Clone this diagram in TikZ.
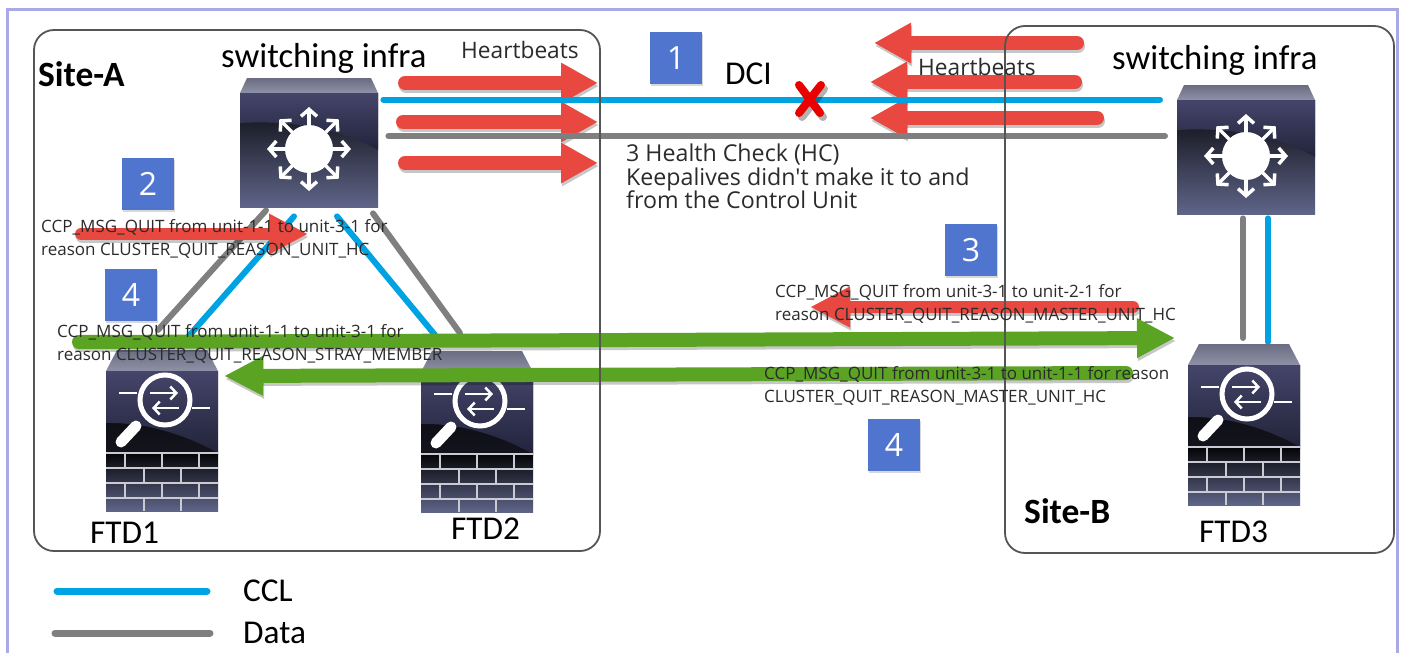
\documentclass[tikz,border=0pt]{standalone}
\usepackage{fontspec}
\setmainfont{Carlito}
\newfontfamily\opsans{Open Sans}
\usetikzlibrary{arrows.meta,shadows}
\definecolor{framec}{HTML}{A9A9E6}
\definecolor{sitec}{HTML}{555555}
\definecolor{cclc}{HTML}{00A3E2}
\definecolor{datac}{HTML}{7F7F7F}
\definecolor{redc}{HTML}{E8483F}
\definecolor{greenc}{HTML}{5BA423}
\definecolor{tagc}{HTML}{4F75CE}
\definecolor{txtc}{HTML}{2B2B2B}
\definecolor{capa}{HTML}{6A6C82}
\definecolor{capb}{HTML}{8F91A6}
\definecolor{upa}{HTML}{44456A}
\definecolor{upb}{HTML}{22233A}
\definecolor{lowa}{HTML}{060609}
\definecolor{lowm}{HTML}{14141E}
\definecolor{lowb}{HTML}{5F6589}
\definecolor{brickc}{HTML}{C9CAD2}
\tikzset{
  sitebox/.style={draw=sitec,line width=1.8pt,rounded corners=20pt},
  cclline/.style={draw=cclc,line width=6pt,line cap=round},
  dataline/.style={draw=datac,line width=6pt,line cap=round},
  tag/.style={fill=tagc,minimum width=52pt,minimum height=52pt,inner sep=0pt,text=white,drop shadow={shadow xshift=1pt,shadow yshift=-2pt,opacity=.3},font=\opsans\fontsize{32}{36}\selectfont},
  icon/.style={inner sep=0pt,anchor=north west},
  big/.style={anchor=base west,inner sep=0pt,text=black,font=\fontsize{34.7}{40}\selectfont},
  bold/.style={anchor=base west,inner sep=0pt,text=black,font=\bfseries\fontsize{35.5}{40}\selectfont},
  mid/.style={anchor=base west,inner sep=0pt,text=black,font=\fontsize{33.3}{38}\selectfont},
  hb/.style={anchor=base west,inner sep=0pt,text=txtc,font=\opsans\fontsize{22.7}{26}\selectfont},
  hc/.style={anchor=north west,inner sep=0pt,align=left,text=txtc,font=\opsans\fontsize{23.2}{23.5}\selectfont},
  ccp/.style={anchor=north west,inner sep=0pt,align=left,text=txtc,font=\opsans\fontsize{17}{23}\selectfont},
  pics/swicon/.style={code={
    \shade[top color=capa,bottom color=capb] (7,0)--(131,0)--(138,15)--(0,15)--cycle;
    \shade[top color=lowa,middle color=lowm,bottom color=lowb] (0,15) rectangle (138,129);
    \shade[top color=upa,bottom color=upb] (0,15)--(138,15)--(138,72) .. controls (100,50) and (50,42) .. (0,45)--cycle;
    \fill[white] (69,71) circle (24);
    \foreach \a in {0,45,...,315}
      \draw[white,line width=3.5pt,-{Straight Barb[length=7pt,width=16pt,line width=3.5pt]}] (69,71) ++(\a:20) -- ++(\a:22);
  }},
  pics/ftdicon/.style={code={
    \shade[top color=capa,bottom color=capb] (11,0)--(101,0)--(112,21)--(0,21)--cycle;
    \shade[top color=lowa,middle color=lowm,bottom color=lowm] (0,21) rectangle (112,104);
    \shade[top color=upa,bottom color=upb] (0,21)--(112,21)--(112,103) .. controls (80,85) and (40,72) .. (0,73)--cycle;
    \shade[top color=lowa,bottom color=lowb] (0,104) rectangle (112,161);
    \draw[white,line width=5pt] (59,50) circle (25);
    \draw[white,line width=2.5pt] (13,43)--(31,43) (86,58)--(104,58);
    \draw[white,line width=2.5pt,-{Straight Barb[length=6pt,width=13pt,line width=2.5pt]}] (44,43)--(72,43);
    \draw[white,line width=2.5pt,-{Straight Barb[length=6pt,width=13pt,line width=2.5pt]}] (73,58)--(46,58);
    \draw[white,line width=11pt,line cap=round] (15,92)--(30,76);
    \draw[brickc,line width=2.5pt] (0,103)--(112,103) (0,118)--(112,118) (0,133)--(112,133) (0,148)--(112,148)
      (19,103)--(19,118) (56,103)--(56,118) (93,103)--(93,118)
      (38,118)--(38,133) (75,118)--(75,133)
      (19,133)--(19,148) (56,133)--(56,148) (93,133)--(93,148)
      (38,148)--(38,161) (75,148)--(75,161);
  }}
}
\newcommand{\fatarrow}[6]{% colour, from, to, shaft, head length, head width
  \draw[black,opacity=.22,line width=#4pt,line cap=round,-{Triangle[length=#5pt,width=#6pt]}] ([shift={(1,3)}]#2) -- ([shift={(1,3)}]#3);
  \draw[#1,line width=#4pt,line cap=round,-{Triangle[length=#5pt,width=#6pt]}] (#2) -- (#3);
}
\begin{document}
\begin{tikzpicture}[x=1pt,y=-1pt]
\useasboundingbox (0,0) rectangle (1401,653);
\fill[white] (0,0) rectangle (1401,653);
\draw[framec,line width=3pt] (7,653)--(7,9)--(1397,9)--(1397,653);
% anchors of the icons
\node[icon,minimum width=138pt,minimum height=129pt] (swA) at (240,78) {};
\node[icon,minimum width=138pt,minimum height=129pt] (swB) at (1177,85) {};
\node[icon,minimum width=112pt,minimum height=161pt] (ftdA) at (106,350) {};
\node[icon,minimum width=112pt,minimum height=161pt] (ftdB) at (421,351) {};
\node[icon,minimum width=112pt,minimum height=161pt] (ftdC) at (1188,344) {};
% heartbeat arrows
\coordinate (hr1a) at (405,83);  \coordinate (hr1b) at (598,83);
\coordinate (hr2a) at (403,122); \coordinate (hr2b) at (598,122);
\coordinate (hr3a) at (405,163); \coordinate (hr3b) at (598,163);
\coordinate (hl1a) at (1077,43);  \coordinate (hl1b) at (874,43);
\coordinate (hl2a) at (1075,82);  \coordinate (hl2b) at (870,82);
\coordinate (hl3a) at (1097,118); \coordinate (hl3b) at (870,118);
\foreach \p/\q in {hr1a/hr1b,hr2a/hr2b,hr3a/hr3b,hl1a/hl1b,hl2a/hl2b,hl3a/hl3b}
  {\fatarrow{redc}{\p}{\q}{14}{37}{38}}
% links
\draw[cclline] ([shift={(5,21.5)}]swA.north east) -- ([shift={(-17,14.5)}]swB.north west);
\draw[dataline] ([shift={(10,58)}]swA.north east) -- ([shift={(-12,51)}]swB.north west);
\draw[dataline] ([shift={(26,3)}]swA.south west) -- ([shift={(52,-20)}]ftdA.north west);
\draw[cclline] ([shift={(54,9)}]swA.south west) -- ([shift={(82,-13)}]ftdA.north west);
\draw[cclline] ([shift={(97,9)}]swA.south west) -- ([shift={(14,-16)}]ftdB.north west);
\draw[dataline] ([shift={(133,6)}]swA.south west) -- ([shift={(39,-18)}]ftdB.north west);
\draw[dataline] ([shift={(66,4)}]swB.south west) -- ([shift={(55,-6)}]ftdC.north west);
\draw[cclline] ([shift={(91,4)}]swB.south west) -- ([shift={(80,-2)}]ftdC.north west);
% icons
\pic at (swA.north west) {swicon};
\pic at (swB.north west) {swicon};
\pic at (ftdA.north west) {ftdicon};
\pic at (ftdB.north west) {ftdicon};
\pic at (ftdC.north west) {ftdicon};
% failure mark
\draw[black,opacity=.3,line width=8pt,line cap=round] (802,89)--(823,117) (824,89)--(802,117);
\draw[red!92!black,line width=8pt,line cap=round] (799,85)--(820,113) (821,85)--(799,113);
% message arrows
\coordinate (m2a) at (81,234);   \coordinate (m2b) at (308,234);
\coordinate (m3a) at (1133,307); \coordinate (m3b) at (810,307);
\coordinate (g1a) at (79,342);   \coordinate (g1b) at (1175,338);
\coordinate (g2a) at (1126,373); \coordinate (g2b) at (224,376);
\fatarrow{redc}{m2a}{m2b}{12}{39}{38}
\fatarrow{redc}{m3a}{m3b}{12}{40}{38}
\fatarrow{greenc}{g1a}{g1b}{14}{38}{37}
\fatarrow{greenc}{g2a}{g2b}{14}{39}{37}
% sites
\draw[sitebox] (34,30) rectangle (600,551);
\draw[sitebox] (1005,26) rectangle (1394,553);
% legend
\coordinate (lg1a) at (57,591);  \coordinate (lg1b) at (207,591);
\coordinate (lg2a) at (55,633);  \coordinate (lg2b) at (210,633);
\draw[cclline,line width=7pt] (lg1a)--(lg1b);
\draw[dataline,line width=7pt] (lg2a)--(lg2b);
% tags
\node[tag] (t1) at (676,58) {1};
\node[tag] (t2) at (148,184) {2};
\node[tag] (t4a) at (131,295) {4};
\node[tag] (t3) at (971,250) {3};
\node[tag] (t4b) at (894,445) {4};
% labels
\node[big] (l1) at (221,67) {switching infra};
\node[big] (l2) at (1112,69) {switching infra};
\node[bold] (l3) at (38,86) {Site-A};
\node[bold] (l4) at (1024,523) {Site-B};
\node[hb] (l5) at (461,58) {Heartbeats};
\node[hb] (l6) at (918,75) {Heartbeats};
\node[mid] (l7) at (725,84) {DCI};
\node[mid] (l8) at (90,543) {FTD1};
\node[mid] (l9) at (451,539) {FTD2};
\node[mid] (l10) at (1199,542) {FTD3};
\node[mid] (l11) at (243,601) {CCL};
\node[mid] (l12) at (243,643) {Data};
\node[hc] (l13) at (626,144) {3 Health Check (HC)\\Keepalives didn't make it to and\\from the Control Unit};
\node[ccp] (l14) at (41,219) {CCP\_MSG\_QUIT from unit-1-1 to unit-3-1 for\\reason CLUSTER\_QUIT\_REASON\_UNIT\_HC};
\node[ccp] (l15) at (57,324) {CCP\_MSG\_QUIT from unit-1-1 to unit-3-1 for\\reason CLUSTER\_QUIT\_REASON\_STRAY\_MEMBER};
\node[ccp] (l16) at (775,284) {CCP\_MSG\_QUIT from unit-3-1 to unit-2-1 for\\reason CLUSTER\_QUIT\_REASON\_MASTER\_UNIT\_HC};
\node[ccp] (l17) at (764,366) {CCP\_MSG\_QUIT from unit-3-1 to unit-1-1 for reason\\CLUSTER\_QUIT\_REASON\_MASTER\_UNIT\_HC};
\end{tikzpicture}
\end{document}
